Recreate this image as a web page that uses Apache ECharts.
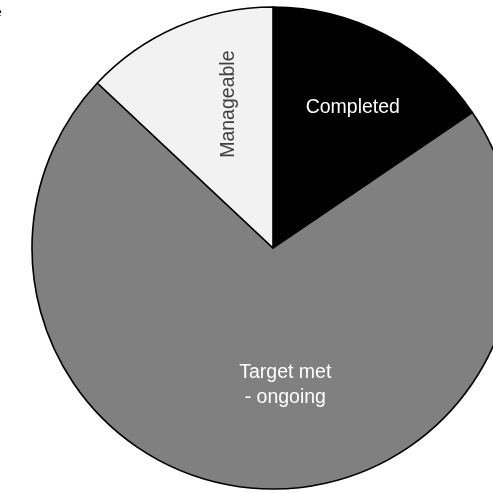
<!DOCTYPE html>
<html>
<head>
<meta charset="utf-8">
<style>
  html, body { margin: 0; padding: 0; background: #ffffff; }
  #chart { width: 493px; height: 493px; }
</style>
<script src="https://cdn.jsdelivr.net/npm/echarts@6/dist/echarts.min.js"></script>
</head>
<body>
<div id="chart"></div>
<script>
// Status categories and their shares (percent)
const categories = ['Completed', 'Target met\n- ongoing', 'Manageable'];
const shares = [15.5, 71.5, 13.0];
const fills = ['#000000', '#808080', '#f2f2f2'];

// Label look per slice; offsets nudge each label from the slice's default inside spot
const labelStyles = [
  { color: '#ffffff', fontSize: 19.5, offset: [22, -31], rotate: 0 },
  { color: '#ffffff', fontSize: 19.5, lineHeight: 25, offset: [22, 14], rotate: 0 },
  { color: '#404040', fontSize: 19.5, offset: [30.5, 5], rotate: 90 }
];

const chart = echarts.init(document.getElementById('chart'), null, { renderer: 'canvas' });

chart.setOption({
  backgroundColor: '#ffffff',
  animation: false,
  graphic: [{
    type: 'text',
    left: -6,
    top: 6,
    style: { text: 'e', font: '14px "Liberation Sans", Arial, sans-serif', fill: '#000000' }
  }],
  series: [{
    type: 'pie',
    center: [273, 248],
    radius: [0, 241],
    startAngle: 90,
    clockwise: true,
    avoidLabelOverlap: false,
    itemStyle: { borderColor: '#000000', borderWidth: 1.6 },
    emphasis: { disabled: true },
    labelLine: { show: false },
    data: categories.map((name, i) => ({
      name: name,
      value: shares[i],
      itemStyle: { color: fills[i] },
      label: {
        show: true,
        position: 'inside',
        formatter: '{b}',
        fontFamily: '"Liberation Sans", Arial, sans-serif',
        align: 'center',
        color: labelStyles[i].color,
        fontSize: labelStyles[i].fontSize,
        lineHeight: labelStyles[i].lineHeight,
        offset: labelStyles[i].offset,
        rotate: labelStyles[i].rotate
      }
    }))
  }]
});
</script>
</body>
</html>
